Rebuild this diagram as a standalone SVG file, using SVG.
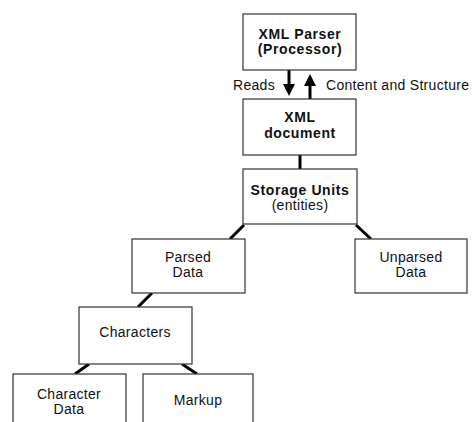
<svg xmlns="http://www.w3.org/2000/svg" width="473" height="422" viewBox="0 0 473 422">
<style>
.box{fill:#fff;stroke:#333;stroke-width:1.2}
.t{font-family:"Liberation Sans",Arial,sans-serif;font-size:14px;fill:#111;text-anchor:middle;letter-spacing:0.3px}
.b{font-weight:bold;letter-spacing:0.6px}
.lbl{text-anchor:start}
.c{stroke:#000;stroke-width:3;fill:none}
</style>
<defs>
<marker id="ah" markerWidth="4" markerHeight="4" refX="2" refY="2" orient="auto" markerUnits="strokeWidth">
<path d="M0,0 L4,2 L0,4 z" fill="#000"/>
</marker>
</defs>
<rect width="473" height="422" fill="#fff"/>
<g id="connectors">
<line class="c" x1="289" y1="70" x2="289" y2="90" marker-end="url(#ah)"/>
<line class="c" x1="310" y1="99" x2="310" y2="80" marker-end="url(#ah)"/>
<line class="c" x1="300" y1="155" x2="300" y2="169"/>
<line class="c" x1="244" y1="225" x2="230" y2="239"/>
<line class="c" x1="356" y1="225" x2="371" y2="239"/>
<line class="c" x1="152" y1="293" x2="138" y2="307"/>
<line class="c" x1="89" y1="364" x2="75" y2="374"/>
<line class="c" x1="182" y1="364" x2="197" y2="374"/>
</g>
<g id="labels">
<text class="t lbl" x="233" y="90">Reads</text>
<text class="t lbl" x="326" y="90">Content and Structure</text>
</g>
<g id="parser">
<rect class="box" x="243" y="14" width="113" height="56"/>
<text class="t b" x="300" y="39">XML Parser</text>
<text class="t b" x="300" y="54">(Processor)</text>
</g>
<g id="document">
<rect class="box" x="243" y="99" width="113" height="56"/>
<text class="t b" x="300" y="122">XML</text>
<text class="t b" x="300" y="138">document</text>
</g>
<g id="storage">
<rect class="box" x="243" y="169" width="114" height="55"/>
<text class="t b" x="300" y="195">Storage Units</text>
<text class="t" x="300" y="210">(entities)</text>
</g>
<g id="parsed">
<rect class="box" x="132" y="239" width="113" height="54"/>
<text class="t" x="188" y="262">Parsed</text>
<text class="t" x="188" y="277">Data</text>
</g>
<g id="unparsed">
<rect class="box" x="355" y="239" width="112" height="54"/>
<text class="t" x="411" y="262">Unparsed</text>
<text class="t" x="411" y="277">Data</text>
</g>
<g id="characters">
<rect class="box" x="79" y="307" width="113" height="57"/>
<text class="t" x="135" y="337">Characters</text>
</g>
<g id="chardata">
<rect class="box" x="13" y="374" width="113" height="60"/>
<text class="t" x="69" y="399">Character</text>
<text class="t" x="69" y="414">Data</text>
</g>
<g id="markup">
<rect class="box" x="143" y="374" width="110" height="60"/>
<text class="t" x="198" y="405">Markup</text>
</g>
</svg>
